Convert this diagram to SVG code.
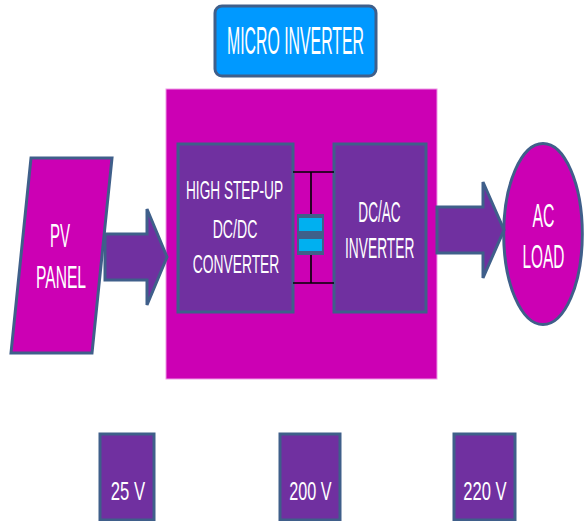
<svg xmlns="http://www.w3.org/2000/svg" width="584" height="521" viewBox="0 0 584 521">
<style>
.t{font-family:"Liberation Sans",Arial,sans-serif;fill:#ffffff;text-anchor:middle}
.mag{fill:#CC00B4;stroke:#3F5F8A;stroke-width:3}
.pur{fill:#7030A0;stroke:#3F5F8A;stroke-width:3}
.wire{stroke:#000000;stroke-width:1.6;fill:none}
</style>
<rect width="584" height="521" fill="#ffffff"/>
<g id="micro-inverter">
<rect x="166" y="89" width="271" height="290" fill="#CC00B4" stroke="#EE99E6" stroke-width="1"/>
</g>
<g id="title">
<rect x="215" y="6" width="161" height="70" rx="7" fill="#0099FF" stroke="#3F5F8A" stroke-width="3"/>
<text class="t" x="295.5" y="54.3" font-size="38" textLength="137" lengthAdjust="spacingAndGlyphs">MICRO INVERTER</text>
</g>
<g id="pv-panel">
<polygon class="mag" points="31,158 112,158 92,353 11,353"/>
<text class="t" x="60" y="246.7" font-size="33.5" textLength="20" lengthAdjust="spacingAndGlyphs">PV</text>
<text class="t" x="61" y="288" font-size="32" textLength="50" lengthAdjust="spacingAndGlyphs">PANEL</text>
</g>
<g id="dcdc">
<rect class="pur" x="178" y="144" width="115" height="168"/>
<text class="t" x="234.5" y="199.3" font-size="26" textLength="97" lengthAdjust="spacingAndGlyphs">HIGH STEP-UP</text>
<text class="t" x="235" y="238" font-size="26" textLength="44.7" lengthAdjust="spacingAndGlyphs">DC/DC</text>
<text class="t" x="236" y="273.3" font-size="26" textLength="86.7" lengthAdjust="spacingAndGlyphs">CONVERTER</text>
</g>
<g id="dcac">
<rect class="pur" x="334" y="144" width="92" height="168"/>
<text class="t" x="379.5" y="221.7" font-size="30" textLength="42.3" lengthAdjust="spacingAndGlyphs">DC/AC</text>
<text class="t" x="379.7" y="258.3" font-size="30" textLength="69.3" lengthAdjust="spacingAndGlyphs">INVERTER</text>
</g>
<g id="capacitor">
<rect x="297" y="214" width="27" height="41" fill="#3F5F8A"/>
<rect x="299" y="218" width="23" height="13" fill="#00B0F0"/>
<rect x="299" y="239" width="23" height="12" fill="#00B0F0"/>
</g>
<g id="ac-load">
<ellipse class="mag" cx="543" cy="234" rx="39.3" ry="90.5"/>
<g transform="scale(1,2.18)">
<text class="t" x="543.5" y="104" font-size="15.4" textLength="22" lengthAdjust="spacingAndGlyphs">AC</text>
<text class="t" x="543.5" y="123.07" font-size="15.4" textLength="42" lengthAdjust="spacingAndGlyphs">LOAD</text>
</g>
</g>
<g id="v25">
<rect class="pur" x="100" y="434" width="54" height="86"/>
<text class="t" x="128" y="500" font-size="26.5" textLength="34.3" lengthAdjust="spacingAndGlyphs">25 V</text>
</g>
<g id="v200">
<rect class="pur" x="280" y="434" width="60" height="86"/>
<text class="t" x="310.5" y="500" font-size="26.5" textLength="42.3" lengthAdjust="spacingAndGlyphs">200 V</text>
</g>
<g id="v220">
<rect class="pur" x="454" y="434" width="61" height="86"/>
<text class="t" x="485" y="500" font-size="26.5" textLength="43.3" lengthAdjust="spacingAndGlyphs">220 V</text>
</g>
<g id="connectors">
<polygon class="pur" points="105,234 147,234 147,209 167,257 147,305 147,280 105,280"/>
<polygon class="pur" points="437,207 483,207 483,182 504,230 483,278 483,253 437,253"/>
<path class="wire" d="M293,172 H334 M311,172 V214 M311,255 V283 M293,283 H334"/>
</g>
</svg>
